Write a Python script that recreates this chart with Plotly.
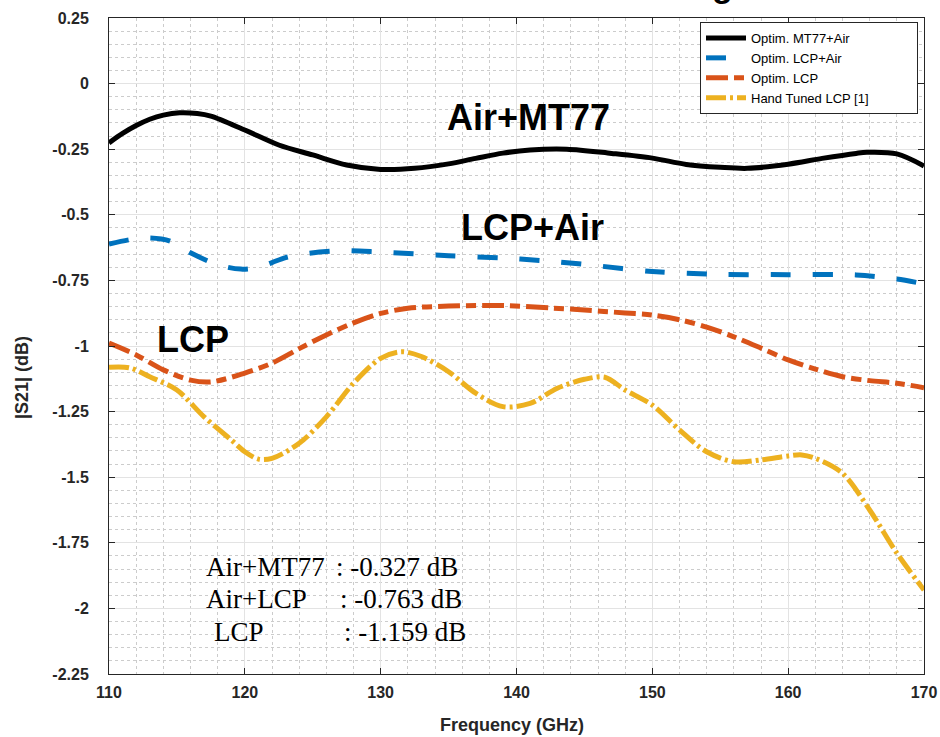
import plotly.graph_objects as go

# ---------------- data ----------------
freq_mt77 = [110, 111, 112, 113, 114, 115.2, 116.5, 117.5, 120, 122.5, 125, 127.5, 130, 132.5,
             135, 137, 139, 141, 143.7, 147, 150, 152.5, 155, 157, 160, 162.5, 165, 165.8,
             168, 170]
s21_mt77 = [-0.226, -0.19, -0.16, -0.136, -0.12, -0.111, -0.114, -0.124, -0.177, -0.234,
            -0.272, -0.31, -0.327, -0.323, -0.306, -0.285, -0.265, -0.253, -0.25, -0.266,
            -0.284, -0.308, -0.319, -0.323, -0.307, -0.285, -0.266, -0.262, -0.268, -0.314]

freq_lcpair = [110, 111.5, 113, 114.5, 116, 118, 119.7, 121, 122, 123, 124.5, 127, 130, 135,
               139, 142, 145, 150, 155, 160, 165, 168, 170]
s21_lcpair = [-0.612, -0.595, -0.588, -0.6, -0.645, -0.69, -0.707, -0.7, -0.682, -0.663,
              -0.648, -0.637, -0.642, -0.656, -0.665, -0.675, -0.689, -0.716, -0.727, -0.728,
              -0.729, -0.745, -0.763]

freq_lcp = [110, 112, 114, 116, 117.5, 120, 122, 124, 126, 128, 130, 132, 135, 139, 142.5,
            145, 148, 150, 152, 154, 156, 158, 160, 162, 164, 166, 168, 170]
s21_lcp = [-0.989, -1.034, -1.091, -1.13, -1.137, -1.103, -1.065, -1.01, -0.958, -0.912,
           -0.876, -0.856, -0.848, -0.846, -0.855, -0.863, -0.874, -0.882, -0.9, -0.928,
           -0.965, -1.008, -1.053, -1.088, -1.117, -1.132, -1.142, -1.159]

freq_hand = [110, 111.5, 113, 115, 117, 119, 120, 121, 122, 124, 126, 128, 130, 131.5, 133,
             135, 137, 139, 141, 143, 145, 146.5, 148, 150, 152, 154, 156, 158, 160, 161,
             162, 164, 166, 168, 170]
s21_hand = [-1.081, -1.083, -1.117, -1.168, -1.27, -1.358, -1.403, -1.431, -1.428, -1.371,
            -1.27, -1.142, -1.047, -1.022, -1.04, -1.098, -1.18, -1.231, -1.219, -1.161,
            -1.127, -1.119, -1.168, -1.225, -1.32, -1.403, -1.441, -1.434, -1.419, -1.415,
            -1.428, -1.485, -1.625, -1.789, -1.93]

series_names = ["Optim. MT77+Air", "Optim. LCP+Air", "Optim. LCP", "Hand Tuned LCP [1]"]

x_tickvals = [110, 120, 130, 140, 150, 160, 170]
x_ticktext = ["110", "120", "130", "140", "150", "160", "170"]
y_tickvals = [0.25, 0, -0.25, -0.5, -0.75, -1, -1.25, -1.5, -1.75, -2, -2.25]
y_ticktext = ["0.25", "0", "-0.25", "-0.5", "-0.75", "-1", "-1.25", "-1.5", "-1.75", "-2", "-2.25"]

curve_labels = ["Air+MT77", "LCP+Air", "LCP"]
curve_label_x = [140.85, 141.2, 116.2]
curve_label_y = [-0.131, -0.55, -0.977]

summary_names = ["Air+MT77", "Air+LCP", "LCP"]
summary_values = [": -0.327 dB", ": -0.763 dB", ": -1.159 dB"]

# ---------------- figure ----------------
W, H = 940, 737
L, R, T, B = 109, 16, 18, 63
PW, PH = W - L - R, H - T - B


def px_x(p):
    return (p - L) / PW


def px_y(p):
    return (H - B - p) / PH


fig = go.Figure()
styles = [
    dict(color="#000000", width=5, dash="solid"),
    dict(color="#0072BD", width=5, dash="20px,22px"),
    dict(color="#D95319", width=5, dash="22px,6px,10px,6px"),
    dict(color="#EDB120", width=5, dash="20px,4px,3px,4px"),
]
# invisible trailing padding widens the legend box to match the reference
legend_pad = ["", "", "", "\u00a0" * 12]
data = [(freq_mt77, s21_mt77), (freq_lcpair, s21_lcpair), (freq_lcp, s21_lcp), (freq_hand, s21_hand)]
for (fx, fy), name, st, pad in zip(data, series_names, styles, legend_pad):
    fig.add_trace(go.Scatter(x=fx, y=fy, mode="lines", name=name + pad,
                             line=dict(shape="spline", smoothing=0.9, **st)))

axis_common = dict(
    automargin=False,
    showline=True, linecolor="#262626", linewidth=1, mirror="ticks",
    ticks="inside", ticklen=6, tickcolor="#262626", tickwidth=1,
    showgrid=True, gridcolor="#e3e3e3", gridwidth=1, zeroline=False,
    tickfont=dict(family="Liberation Sans, Arial", size=16, color="#262626", weight="bold"),
)

fig.update_xaxes(range=[110, 170], tickvals=x_tickvals, ticktext=x_ticktext,
                 ticklabelstandoff=4,
                 minor=dict(dtick=2, showgrid=True, griddash="dot", gridcolor="#cccccc", gridwidth=1, ticks=""),
                 **axis_common)
fig.update_yaxes(range=[-2.25, 0.25], tickvals=y_tickvals, ticktext=y_ticktext,
                 ticklabelstandoff=16,
                 minor=dict(dtick=0.05, showgrid=True, griddash="dot", gridcolor="#cccccc", gridwidth=1, ticks=""),
                 **axis_common)

annotations = []
for t, xv, yv in zip(curve_labels, curve_label_x, curve_label_y):
    annotations.append(dict(x=xv, y=yv, xref="x", yref="y", text=t, showarrow=False,
                            xanchor="center", yanchor="middle",
                            font=dict(family="Liberation Sans, Arial", size=36, color="#000000", weight="bold")))

label_left_px = [204, 204, 212]
value_left_px = [334, 338, 342]
baseline_px = [576, 608, 641]
for name, val, lx, vx, by in zip(summary_names, summary_values, label_left_px, value_left_px, baseline_px):
    cy = by - 0.33 * 27
    for txt, xx in ((name, lx), (val, vx)):
        annotations.append(dict(x=px_x(xx), y=px_y(cy), xref="paper", yref="paper", text=txt,
                                showarrow=False, xanchor="left", yanchor="middle",
                                font=dict(family="Liberation Serif, Times New Roman", size=27, color="#000000")))

# axis titles
annotations.append(dict(x=px_x(512), y=px_y(725), xref="paper", yref="paper", text="Frequency (GHz)",
                        showarrow=False, xanchor="center", yanchor="middle",
                        font=dict(family="Liberation Sans, Arial", size=18, color="#262626", weight="bold")))
annotations.append(dict(x=px_x(22), y=px_y(378), xref="paper", yref="paper", text="|S21| (dB)",
                        showarrow=False, xanchor="center", yanchor="middle", textangle=-90,
                        font=dict(family="Liberation Sans, Arial", size=18, color="#262626", weight="bold")))
# cropped title remnant
annotations.append(dict(x=px_x(722), y=px_y(-15), xref="paper", yref="paper", text="g",
                        showarrow=False, xanchor="center", yanchor="middle",
                        font=dict(family="Liberation Sans, Arial", size=34, color="#000000", weight="bold")))

fig.update_layout(
    width=W, height=H, autosize=False,
    margin=dict(l=L, r=R, t=T, b=B, autoexpand=False),
    paper_bgcolor="white", plot_bgcolor="white",
    annotations=annotations,
    showlegend=True,
    legend=dict(x=px_x(918), y=px_y(22), xanchor="right", yanchor="top",
                bgcolor="white", bordercolor="#262626", borderwidth=1,
                font=dict(family="Liberation Sans, Arial", size=13, color="#000000"),
                itemwidth=40, tracegroupgap=0),
)

fig.write_html("out.html", config={"displayModeBar": False},
               post_script="document.body.style.margin='0';document.body.style.padding='0';")
